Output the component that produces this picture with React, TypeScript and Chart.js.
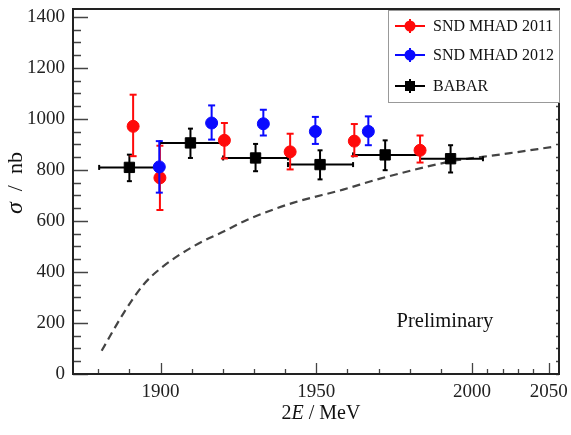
import React, { useEffect, useRef } from 'react';
import { Chart, registerables, LinearScale } from 'chart.js';

// ---- axis ticks ----
const X_TICKS = [1900, 1950, 2000, 2050];
const Y_TICKS = [0, 200, 400, 600, 800, 1000, 1200, 1400];

// ---- SND MHAD 2011 ----
const SND2011_X = [1891.2, 1899.8, 1920.5, 1941.6, 1962.2, 1983.3];
const SND2011_Y = [971, 769, 916, 871, 913, 877];
const SND2011_LO = [854, 643, 845, 802, 854, 829];
const SND2011_HI = [1095, 895, 984, 942, 980, 935];

// ---- SND MHAD 2012 ----
const SND2012_X = [1899.6, 1916.4, 1933.0, 1949.7, 1966.7];
const SND2012_Y = [812, 984, 981, 951, 951];
const SND2012_LO = [711, 919, 935, 902, 897];
const SND2012_HI = [913, 1053, 1036, 1008, 1010];

// ---- BABAR ----
const BABAR_X = [1890.0, 1909.6, 1930.5, 1951.2, 1972.1, 1993.1];
const BABAR_Y = [810, 906, 847, 821, 859, 844];
const BABAR_LO = [756, 847, 795, 763, 799, 790];
const BABAR_HI = [860, 962, 902, 877, 916, 897];
const BABAR_XLO = [1880.3, 1899.8, 1920.1, 1940.9, 1961.8, 1983.3];
const BABAR_XHI = [1899.8, 1920.1, 1940.9, 1961.8, 1983.3, 2007.1];

// ---- dashed curve ----
const CURVE_X = [1881.1, 1888.1, 1894.5, 1899.8, 1910.5, 1921.3, 1927.7, 1931.9, 1942.5, 1958.6, 1970.5, 1995.1, 2000, 2024.8, 2052.0];
const CURVE_Y = [91, 238, 350, 412, 500, 565, 604, 625, 671, 723, 766, 838, 846, 866, 890];

const SERIES_NAMES = ['SND MHAD 2011', 'SND MHAD 2012', 'BABAR'];
const RED = '#ff0a0a';
const BLUE = '#0a0aff';
const BLACK = '#000000';
const FONT = '"Liberation Serif", "Times New Roman", serif';

// The reference axis is compressed beyond 2000 MeV (2050 label sits close to 2000).
const WARP_FROM = 2000;
const WARP_FACTOR = 0.492;
const warp = (v: number) => (v <= WARP_FROM ? v : WARP_FROM + (v - WARP_FROM) * WARP_FACTOR);
const unwarp = (t: number) => (t <= WARP_FROM ? t : WARP_FROM + (t - WARP_FROM) / WARP_FACTOR);

class WarpedScale extends LinearScale {
  static id = 'warped';
  static defaults = LinearScale.defaults;
  getPixelForValue(value: any) {
    if (value === null || value === undefined || isNaN(value)) return NaN;
    return super.getPixelForValue(warp(value));
  }
  getValueForPixel(pixel: number) {
    return unwarp(super.getValueForPixel(pixel) as number);
  }
}

Chart.register(...registerables, WarpedScale as any);

const pts = (xs: number[], ys: number[]) => xs.map((x, i) => ({ x, y: ys[i] }));
const vBars = (xs: number[], lo: number[], hi: number[]) =>
  xs.flatMap((x, i) => [{ x, y: lo[i] }, { x, y: hi[i] }, { x, y: null as any }]);
const hBars = (xlo: number[], xhi: number[], ys: number[]) =>
  xlo.flatMap((x, i) => [{ x, y: ys[i] }, { x: xhi[i], y: ys[i] }, { x: xhi[i], y: null as any }]);

function drawMixed(ctx: CanvasRenderingContext2D, parts: { t: string; it?: boolean; size: number }[], cx: number, y: number) {
  const fontOf = (p: { it?: boolean; size: number }) => `${p.it ? 'italic ' : ''}${p.size}px ${FONT}`;
  let total = 0;
  for (const p of parts) { ctx.font = fontOf(p); total += ctx.measureText(p.t).width; }
  let x = cx - total / 2;
  ctx.textAlign = 'left';
  for (const p of parts) { ctx.font = fontOf(p); ctx.fillText(p.t, x, y); x += ctx.measureText(p.t).width; }
}

const framePlugin = {
  id: 'frame',
  beforeDatasetsDraw(chart: any) {
    const { ctx, chartArea: a, scales } = chart;
    const x = scales.x, y = scales.y;
    ctx.save();
    ctx.strokeStyle = '#444';
    ctx.lineWidth = 1.3;
    ctx.beginPath();
    for (let v = 0; v <= 1400; v += 50) {
      const py = Math.round(y.getPixelForValue(v)) + 0.5;
      const len = v % 200 === 0 ? 15 : 8;
      ctx.moveTo(a.left, py); ctx.lineTo(a.left + len, py);
      ctx.moveTo(a.right, py); ctx.lineTo(a.right - 3, py);
    }
    for (let v = 1880; v <= 2050; v += 10) {
      const px = Math.round(x.getPixelForValue(v)) + 0.5;
      const len = v % 50 === 0 ? 11 : 5;
      ctx.moveTo(px, a.bottom); ctx.lineTo(px, a.bottom - len);
    }
    ctx.stroke();
    ctx.strokeStyle = '#222';
    ctx.lineWidth = 2;
    ctx.strokeRect(a.left, a.top, a.right - a.left, a.bottom - a.top);
    ctx.restore();
  },
};

const overlayPlugin = {
  id: 'overlay',
  afterDraw(chart: any) {
    const { ctx, chartArea: a, scales } = chart;
    const x = scales.x, y = scales.y;
    ctx.save();
    ctx.fillStyle = '#111';
    ctx.textBaseline = 'alphabetic';
    // x title
    drawMixed(ctx, [{ t: '2', size: 20 }, { t: 'E', it: true, size: 20 }, { t: ' / MeV', size: 20 }], (a.left + a.right) / 2 + 5, 419);
    // y title
    ctx.save();
    ctx.translate(22, 183);
    ctx.rotate(-Math.PI / 2);
    drawMixed(ctx, [{ t: 'σ', it: true, size: 24 }, { t: '  /  nb', size: 22 }], 0, 0);
    ctx.restore();
    // Preliminary
    ctx.fillStyle = '#111';
    ctx.font = `20.5px ${FONT}`;
    ctx.textAlign = 'center';
    ctx.textBaseline = 'middle';
    ctx.fillText('Preliminary', x.getPixelForValue(1991.3), y.getPixelForValue(207));

    // legend box
    const bw = 171, bh = 92;
    const bx = a.right - bw, by = a.top + 1;
    ctx.fillStyle = '#fff';
    ctx.fillRect(bx, by, bw, bh);
    ctx.strokeStyle = '#999';
    ctx.lineWidth = 1;
    ctx.strokeRect(bx + 0.5, by + 0.5, bw, bh);
    const colors = [RED, BLUE, BLACK];
    const rows = [16, 45, 76];
    SERIES_NAMES.forEach((name, i) => {
      const cy = by + rows[i];
      const mx = bx + 22;
      ctx.strokeStyle = colors[i];
      ctx.fillStyle = colors[i];
      ctx.lineWidth = 2;
      ctx.beginPath();
      ctx.moveTo(bx + 7, cy); ctx.lineTo(bx + 37, cy);
      ctx.moveTo(mx, cy - 7); ctx.lineTo(mx, cy + 7);
      ctx.stroke();
      ctx.beginPath();
      if (i < 2) { ctx.arc(mx, cy, 5.5, 0, Math.PI * 2); ctx.fill(); }
      else { ctx.fillRect(mx - 5, cy - 5, 10, 10); }
      ctx.fillStyle = '#111';
      ctx.font = `16px ${FONT}`;
      ctx.textAlign = 'left';
      ctx.textBaseline = 'middle';
      ctx.fillText(name, bx + 45, cy + 1);
    });
    ctx.restore();
  },
};

export default function App() {
  const ref = useRef<HTMLCanvasElement | null>(null);
  useEffect(() => {
    if (!ref.current) return;
    const markerCommon = { showLine: false, pointBorderWidth: 1 };
    const errCommon = { showLine: true, borderWidth: 2, pointStyle: 'line', pointBorderWidth: 2, spanGaps: false };
    const chart = new Chart(ref.current, {
      type: 'scatter',
      data: {
        datasets: [
          { label: SERIES_NAMES[1], data: pts(SND2012_X, SND2012_Y), pointStyle: 'circle', pointRadius: 6, backgroundColor: BLUE, borderColor: BLUE, order: 1, ...markerCommon },
          { label: 'e2012', data: vBars(SND2012_X, SND2012_LO, SND2012_HI), borderColor: BLUE, pointBorderColor: BLUE, pointRadius: 3.5, order: 2, ...errCommon },
          { label: SERIES_NAMES[0], data: pts(SND2011_X, SND2011_Y), pointStyle: 'circle', pointRadius: 6, backgroundColor: RED, borderColor: RED, order: 3, ...markerCommon },
          { label: 'e2011', data: vBars(SND2011_X, SND2011_LO, SND2011_HI), borderColor: RED, pointBorderColor: RED, pointRadius: 3.5, order: 4, ...errCommon },
          { label: SERIES_NAMES[2], data: pts(BABAR_X, BABAR_Y), pointStyle: 'rect', pointRadius: 7.3, backgroundColor: BLACK, borderColor: BLACK, order: 5, ...markerCommon },
          { label: 'eBABAR', data: vBars(BABAR_X, BABAR_LO, BABAR_HI), borderColor: BLACK, pointBorderColor: BLACK, pointRadius: 2.5, order: 6, ...errCommon },
          { label: 'binBABAR', data: hBars(BABAR_XLO, BABAR_XHI, BABAR_Y), borderColor: BLACK, pointBorderColor: BLACK, pointRadius: 2.5, pointRotation: 90, order: 7, ...errCommon },
          { label: 'curve', data: pts(CURVE_X, CURVE_Y), showLine: true, borderColor: '#444', borderWidth: 2.2, borderDash: [8, 5], pointRadius: 0, cubicInterpolationMode: 'monotone', order: 8 },
        ] as any,
      },
      options: {
        animation: false,
        responsive: false,
        events: [],
        layout: { padding: { top: 9, right: 12, left: 0, bottom: 0 } },
        plugins: { legend: { display: false }, tooltip: { enabled: false } },
        scales: {
          x: {
            type: 'warped' as any,
            min: 1871.9,
            max: 2027.9,
            afterBuildTicks: (s: any) => { s.ticks = X_TICKS.map((v) => ({ value: v })); },
            afterFit: (s: any) => { s.height = 61; s.paddingLeft = 0; s.paddingRight = 0; },
            grid: { display: false, drawTicks: false },
            border: { display: false },
            ticks: { font: { family: FONT, size: 19 }, color: '#222', padding: 7, maxRotation: 0, autoSkip: false, callback: (v: any) => String(v) },
          },
          y: {
            type: 'linear',
            min: 0,
            max: 1431,
            afterBuildTicks: (s: any) => { s.ticks = Y_TICKS.map((v) => ({ value: v })); },
            afterFit: (s: any) => { s.width = 73; s.paddingTop = 0; s.paddingBottom = 0; },
            grid: { display: false, drawTicks: false },
            border: { display: false },
            ticks: { font: { family: FONT, size: 19 }, color: '#222', padding: 8, autoSkip: false, callback: (v: any) => String(v) },
          },
        } as any,
      },
      plugins: [framePlugin, overlayPlugin],
    });
    return () => chart.destroy();
  }, []);
  return (
    <div style={{ position: 'absolute', left: 0, top: 0, width: 571, height: 435, background: '#fff' }}>
      <canvas ref={ref} width={571} height={435} style={{ display: 'block' }} />
    </div>
  );
}
